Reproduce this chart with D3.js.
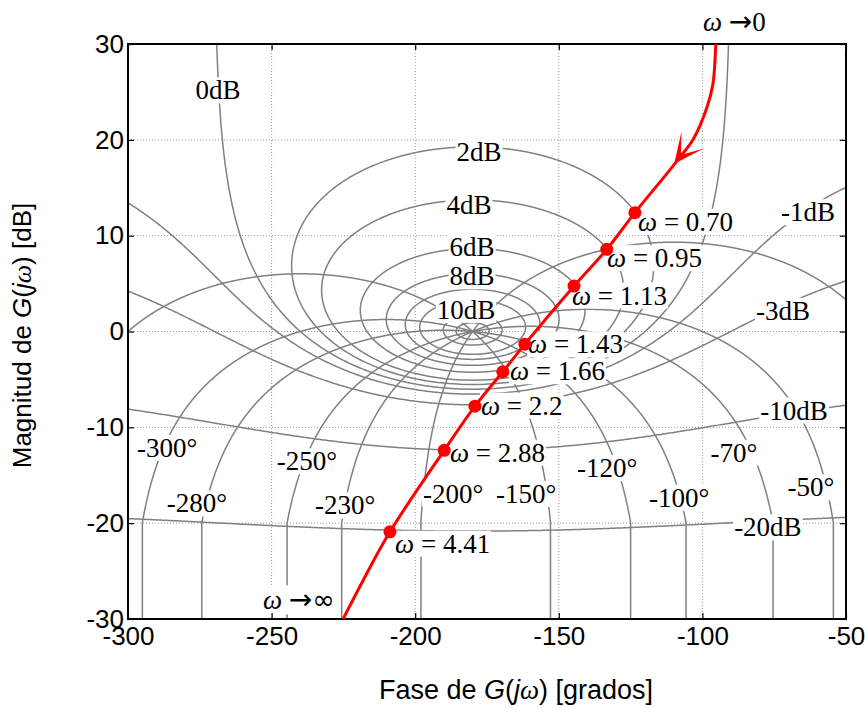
<!DOCTYPE html>
<html><head><meta charset="utf-8">
<script src="https://cdn.jsdelivr.net/npm/d3@7"></script>
<style>body{margin:0;background:#fff} svg{display:block}</style>
</head><body><svg id="c" width="865" height="708"></svg>
<script>
// ---------- data ----------
const phaseTicks = [-300, -250, -200, -150, -100, -50];
const magTicks = [-30, -20, -10, 0, 10, 20, 30];
// Nichols grid: constant closed-loop magnitude (dB) and phase (deg) contours
const mValuesDb = [20, 15, 10, 8, 6, 4, 2, 1, 0, -1, -3, -10, -20];
const nValuesDeg = [-50, -70, -100, -120, -150, -200];
// grid labels
const gridLabelText  = ["0dB","2dB","4dB","6dB","8dB","10dB","-1dB","-3dB","-10dB","-20dB",
                        "-300°","-280°","-250°","-230°","-200°","-150°","-120°","-100°","-70°","-50°"];
const gridLabelPhase = [-268.7,-177.8,-181.3,-180.2,-180.2,-182.3,-63.2,-71.9,-68.1,-77.2,
                        -286.4,-276.0,-237.7,-224.4,-186.8,-161.4,-133.2,-108.1,-89.0,-62.2];
const gridLabelMag   = [25.2,18.8,13.2,8.9,5.8,2.3,12.5,2.2,-8.2,-20.4,
                        -12.1,-17.9,-13.5,-18.1,-16.9,-16.9,-14.2,-17.3,-12.6,-16.2];
// open-loop frequency response G(jw)
const curvePhase = [-94.9, -95.3, -96.3, -98.4, -103.3, -107.8, -112.3, -123.5, -133.3, -144.7,
                    -161.8, -169.5, -179.2, -189.9, -208.8, -218.1, -225.1];
const curveMag   = [31.5, 30.0, 25.9, 23.4, 20.0, 18.2, 16.5, 12.4, 8.57, 4.74,
                    -1.32, -4.2, -7.79, -12.4, -20.9, -25.95, -30.0];
// marked frequencies
const omegaText  = ["0.70","0.95","1.13","1.43","1.66","2.2","2.88","4.41"];
const omegaPhase = [-123.5, -133.3, -144.7, -161.8, -169.5, -179.2, -189.9, -208.8];
const omegaMag   = [12.4, 8.57, 4.74, -1.32, -4.2, -7.79, -12.4, -20.9];
const omegaLabelPhase = [-122.4, -133.2, -145.4, -160.7, -167.0, -177.1, -187.9, -207.0];
const omegaLabelMag   = [11.5, 7.7, 3.8, -1.3, -4.1, -7.7, -12.6, -22.1];
// limits labels
const limitText  = ["→", "→"];
const limitEnd   = ["0", "∞"];
const limitPhase = [-99.8, -253.0];
const limitMag   = [32.3, -28.0];
const arrowPhase = -109.8, arrowMag = 17.5;

// ---------- layout ----------
const svg = d3.select("#c");
const L = 128, R = 846, T = 44, B = 619;
const x = d3.scaleLinear([-300, -50], [L, R]);
const y = d3.scaleLinear([-30, 30], [B, T]);
const SANS = "Arial, 'Liberation Sans', sans-serif";
const SERIF = "'Times New Roman', 'Liberation Serif', serif";
const GRAY = "#808080";

svg.append("defs").append("clipPath").attr("id","plot")
  .append("rect").attr("x",L).attr("y",T).attr("width",R-L).attr("height",B-T);

const plot = svg.append("g").attr("clip-path","url(#plot)");

// dotted grid
plot.append("g").selectAll("line").data(phaseTicks.slice(1,-1)).join("line")
  .attr("x1",d=>x(d)).attr("x2",d=>x(d)).attr("y1",T).attr("y2",B)
  .attr("stroke","#999").attr("stroke-width",1).attr("stroke-dasharray","1,2");
plot.append("g").selectAll("line").data(magTicks.slice(1,-1)).join("line")
  .attr("y1",d=>y(d)).attr("y2",d=>y(d)).attr("x1",L).attr("x2",R)
  .attr("stroke","#999").attr("stroke-width",1).attr("stroke-dasharray","1,2");

// ---------- Nichols grid ----------
const rad = Math.PI/180;
const db = r => 20*Math.log10(r);
const line = d3.line().x(d=>x(d[0])).y(d=>y(d[1]));
const contours = [];
mValuesDb.forEach(mdb => {
  const M = Math.pow(10, mdb/20);
  const pts = [];
  if (mdb > 0) {
    const c = -M*M/(M*M-1), rho = M/(M*M-1);
    for (let i=0;i<=720;i++){
      const th = i/720*2*Math.PI;
      const re = c + rho*Math.cos(th), im = rho*Math.sin(th);
      let ph = Math.atan2(im, re)/rad; if (ph > 0) ph -= 360;
      pts.push([ph, db(Math.hypot(re,im))]);
    }
  } else if (mdb === 0) {
    for (let ph=-269.6; ph<=-90.4; ph+=0.2){
      const r = -1/(2*Math.cos(ph*rad));
      pts.push([ph, db(r)]);
    }
  } else {
    const M2 = M*M;
    for (let ph=-360; ph<=0; ph+=0.5){
      const cs = Math.cos(ph*rad);
      const r = (M2*cs + Math.sqrt(M2*M2*cs*cs + (1-M2)*M2))/(1-M2);
      pts.push([ph, db(r)]);
    }
  }
  contours.push(pts);
});
nValuesDeg.forEach(N => {
  const pts = [];
  for (let ph=-360; ph<=0; ph+=0.05){
    const r = Math.sin((ph-N)*rad)/Math.sin(N*rad);
    if (r > 0 && db(r) >= -20) pts.push([ph, db(r)]);
  }
  if (pts.length){
    pts.unshift([pts[0][0], -31]);
    pts.push([pts[pts.length-1][0], -31]);
  }
  contours.push(pts);
});
plot.append("g").selectAll("path").data(contours).join("path")
  .attr("d", line).attr("fill","none").attr("stroke",GRAY).attr("stroke-width",1.5);

// ---------- labels with white background ----------
function label(parent, px, py, parts, anchor, size){
  const g = parent.append("g");
  const rect = g.append("rect").attr("fill","#fff");
  const t = g.append("text").attr("x",px).attr("y",py).attr("dy","0.35em")
    .attr("text-anchor",anchor).attr("font-family",SERIF).attr("font-size",size).attr("fill","#000");
  parts.forEach(p => {
    const ts = t.append("tspan").text(p.t);
    if (p.it) ts.attr("font-style","italic");
    if (p.f) ts.attr("font-family",p.f);
    if (p.s) ts.attr("font-size",p.s);
  });
  const bb = t.node().getBBox();
  rect.attr("x",bb.x-1).attr("y",bb.y+2).attr("width",bb.width+2).attr("height",bb.height-4);
  return g;
}
const labels = svg.append("g");
gridLabelText.forEach((s,i) => {
  label(labels, x(gridLabelPhase[i]), y(gridLabelMag[i]), [{t:s}], "middle", 27);
});
omegaText.forEach((s,i) => {
  label(labels, x(omegaLabelPhase[i]), y(omegaLabelMag[i]), [{t:"ω",it:true},{t:" = "+s}], "start", 27);
});
limitText.forEach((s,i) => {
  label(labels, x(limitPhase[i]), y(limitMag[i]),
    [{t:"ω ",it:true},{t:s,f:"'DejaVu Sans', sans-serif",s:28},{t:limitEnd[i], f: i===1 ? "'DejaVu Sans', sans-serif" : null}], "start", 27);
});

// ---------- axes ----------
const axG = svg.append("g").attr("font-family",SANS);
const fmt = d => String(d);
function styleAxis(g){
  g.select(".domain").remove();
  g.selectAll(".tick line").attr("stroke","#000").attr("stroke-width",1.2);
  g.selectAll(".tick text").attr("font-family",SANS).attr("font-size",26).attr("fill","#000");
}
axG.append("g").attr("transform",`translate(0,${B})`)
  .call(d3.axisBottom(x).tickValues(phaseTicks).tickFormat(fmt).tickSize(-6).tickPadding(8)).call(styleAxis);
axG.append("g").attr("transform",`translate(0,${T})`)
  .call(d3.axisTop(x).tickValues(phaseTicks).tickSize(-6).tickFormat("")).call(styleAxis);
axG.append("g").attr("transform",`translate(${L},0)`)
  .call(d3.axisLeft(y).tickValues(magTicks).tickFormat(fmt).tickSize(-6).tickPadding(4)).call(styleAxis);
axG.append("g").attr("transform",`translate(${R},0)`)
  .call(d3.axisRight(y).tickValues(magTicks).tickSize(-6).tickFormat("")).call(styleAxis);
svg.append("rect").attr("x",L).attr("y",T).attr("width",R-L).attr("height",B-T)
  .attr("fill","none").attr("stroke","#000").attr("stroke-width",2);

// axis titles
const xt = svg.append("text").attr("x",516).attr("y",699).attr("text-anchor","middle")
  .attr("font-family",SANS).attr("font-size",27);
xt.append("tspan").text("Fase de ");
xt.append("tspan").attr("font-style","italic").text("G");
xt.append("tspan").text("(");
xt.append("tspan").attr("font-style","italic").text("j");
xt.append("tspan").attr("font-style","italic").attr("font-family",SERIF).text("ω");
xt.append("tspan").text(") [grados]");
const yt = svg.append("text").attr("transform",`translate(31,${(T+B)/2+4}) rotate(-90)`).attr("text-anchor","middle")
  .attr("font-family",SANS).attr("font-size",26);
yt.append("tspan").text("Magnitud de ");
yt.append("tspan").attr("font-style","italic").text("G");
yt.append("tspan").text("(");
yt.append("tspan").attr("font-style","italic").text("j");
yt.append("tspan").attr("font-style","italic").attr("font-family",SERIF).text("ω");
yt.append("tspan").text(") [dB]");

// ---------- frequency response ----------
const curvePts = curvePhase.map((p,i)=>[p, curveMag[i]]);
const red = svg.append("g").attr("clip-path","url(#plot)");
red.append("path").attr("d", d3.line().x(d=>x(d[0])).y(d=>y(d[1])).curve(d3.curveCatmullRom)(curvePts))
  .attr("fill","none").attr("stroke","#ff0000").attr("stroke-width",3);
red.selectAll("circle").data(omegaPhase.map((p,i)=>[p,omegaMag[i]])).join("circle")
  .attr("cx",d=>x(d[0])).attr("cy",d=>y(d[1])).attr("r",6.5).attr("fill","#ff0000");
// arrowhead along the curve direction
{
  const tx = x(arrowPhase), ty = y(arrowMag);
  const dx = x(-112.3) - x(-103.3), dy = y(16.5) - y(20.0);
  const len = Math.hypot(dx,dy), ux = dx/len, uy = dy/len; // direction of travel
  const px = -uy, py = ux;
  const Lh = 30, W = 14, Nn = 11;
  const p = [[tx,ty],[tx-ux*Lh+px*W, ty-uy*Lh+py*W],[tx-ux*Nn, ty-uy*Nn],[tx-ux*Lh-px*W, ty-uy*Lh-py*W]];
  red.append("path").attr("d","M"+p.map(q=>q.join(",")).join("L")+"Z").attr("fill","#ff0000");
}
</script></body></html>
